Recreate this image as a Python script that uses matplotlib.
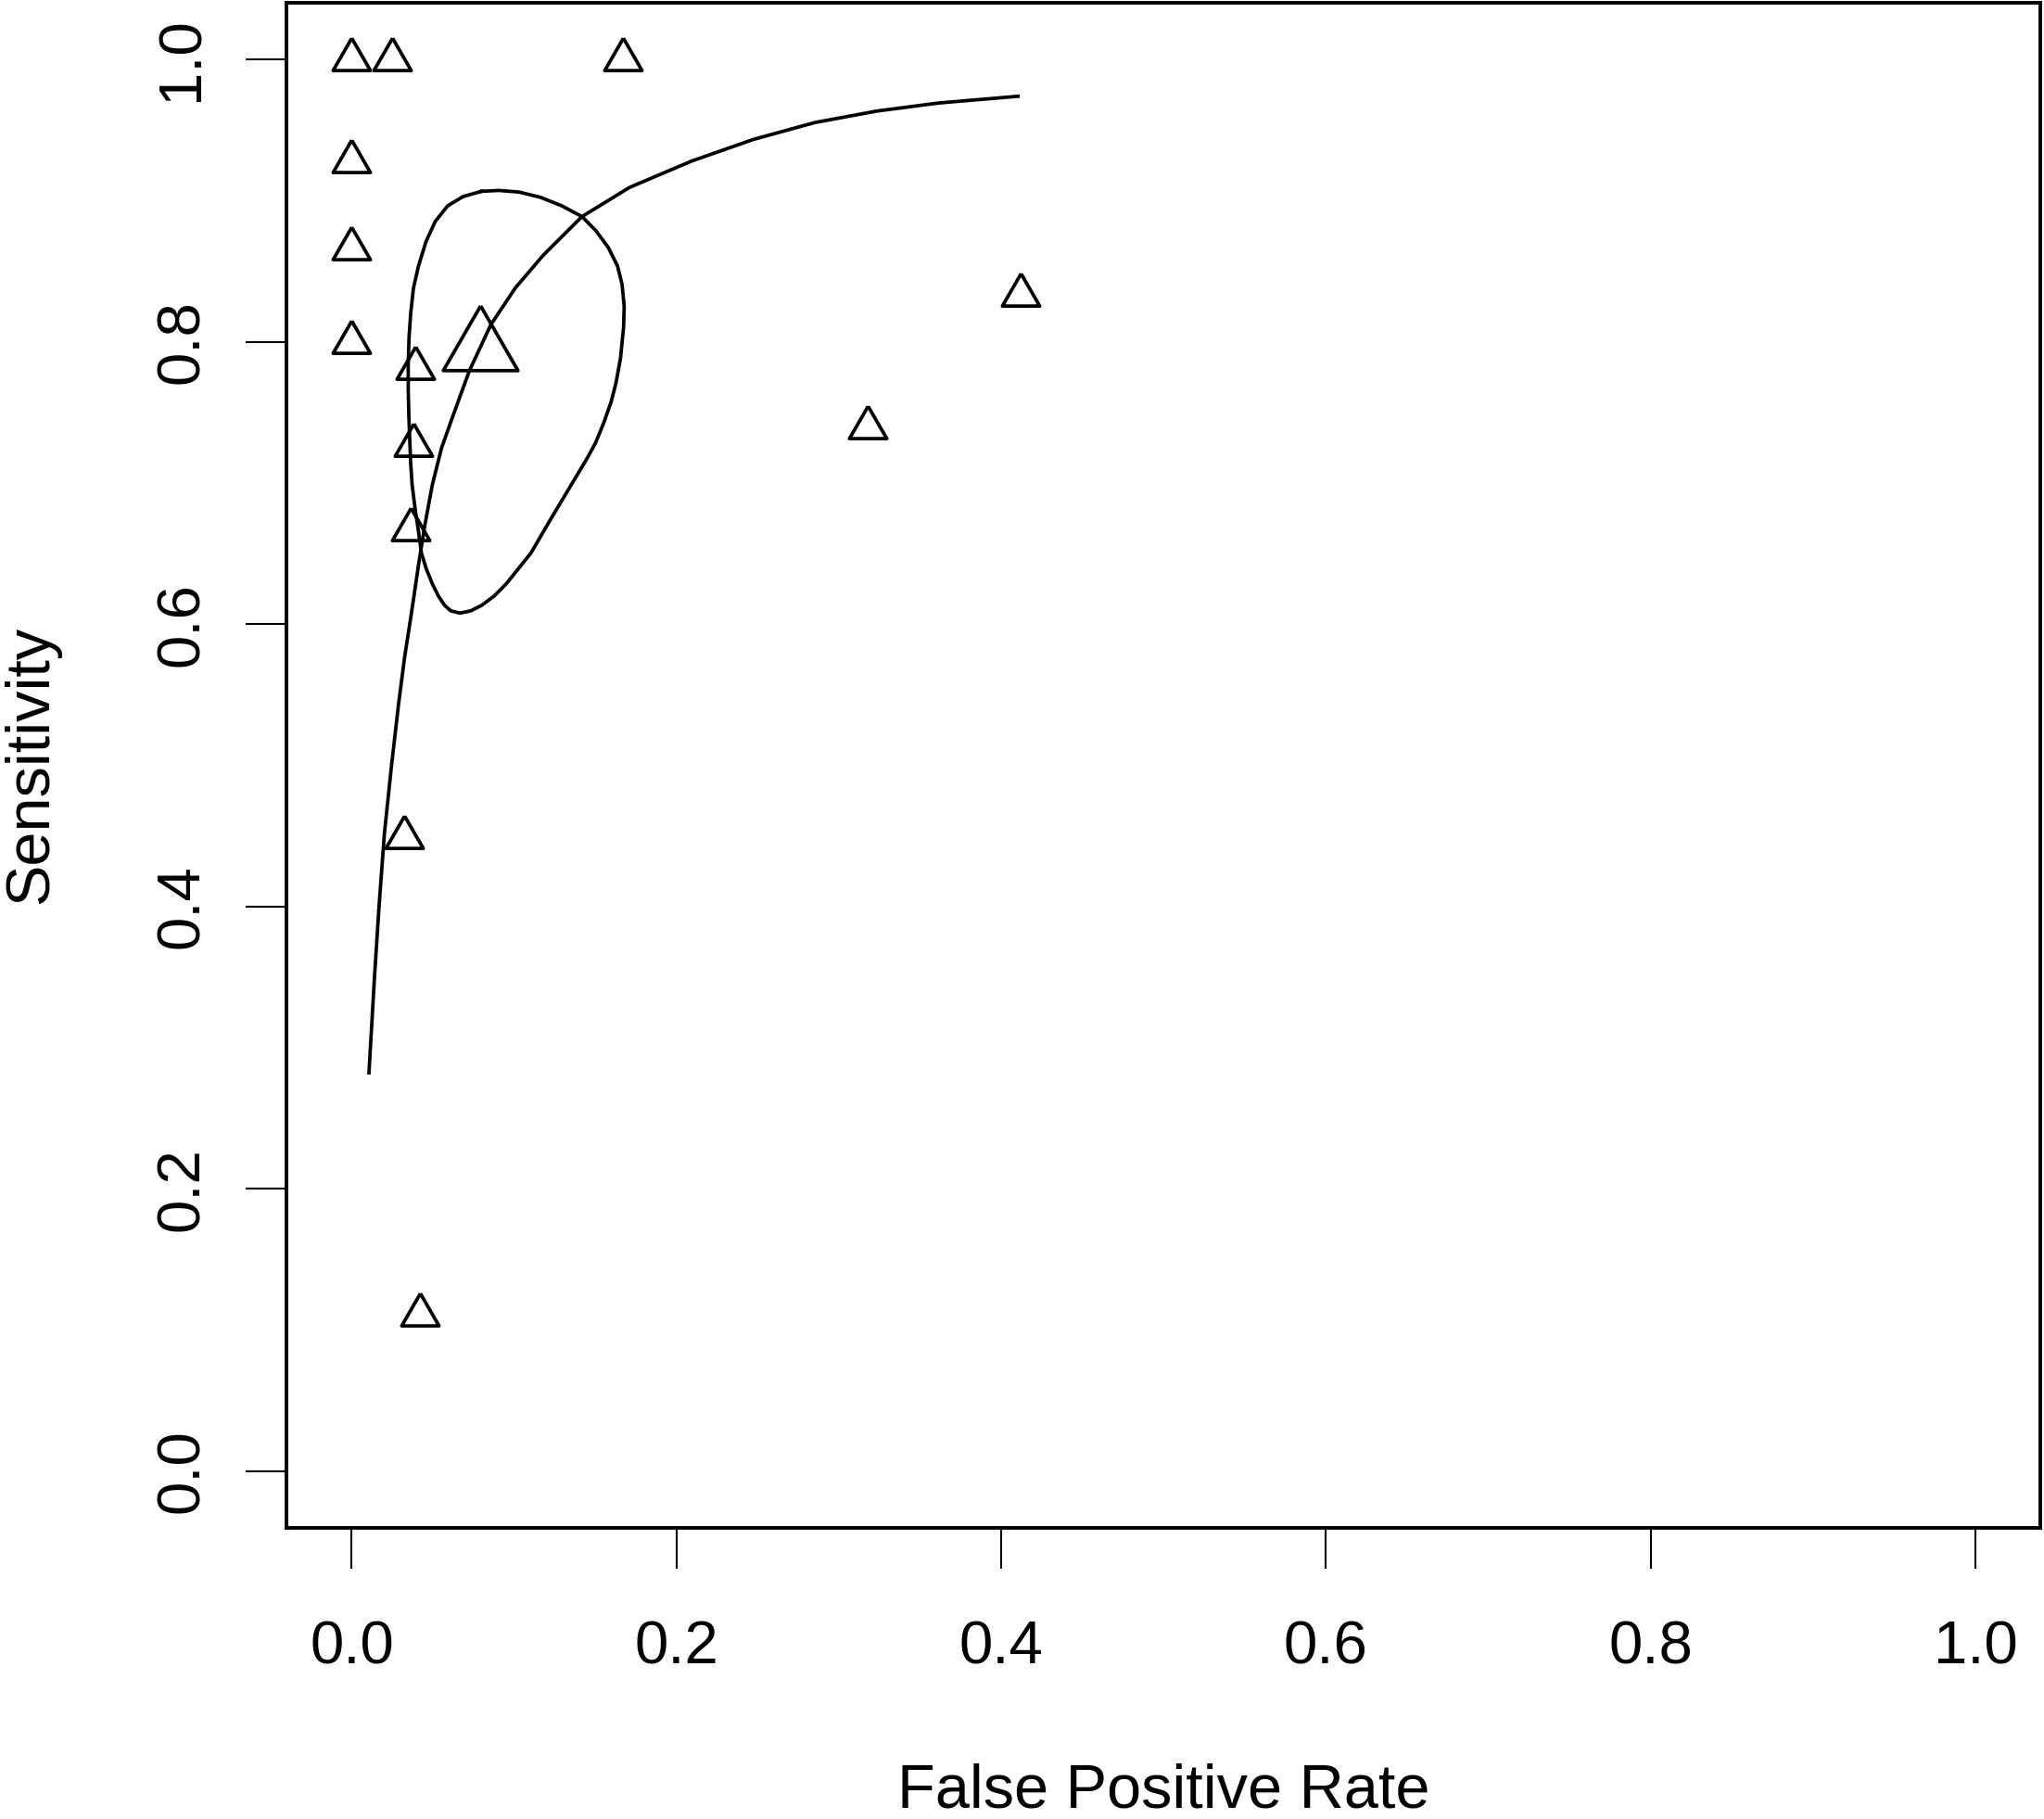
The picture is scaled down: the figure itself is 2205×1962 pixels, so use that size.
import matplotlib
matplotlib.use("Agg")
import matplotlib.pyplot as plt
import numpy as np

plt.rcParams['font.family'] = ['Liberation Sans', 'DejaVu Sans']

# study points (false positive rate, sensitivity)
fpr = [0.0, 0.0246, 0.167, 0.0, 0.0, 0.0, 0.039, 0.038, 0.036, 0.032, 0.042, 0.318, 0.412]
sens = [1.0, 1.0, 1.0, 0.928, 0.866, 0.800, 0.781, 0.727, 0.667, 0.449, 0.111, 0.739, 0.833]

# summary point
sum_fpr = [0.079]
sum_sens = [0.795]

# SROC curve
sroc_fpr = [0.0106, 0.0140, 0.0168, 0.0201, 0.0245, 0.0290, 0.0325, 0.0372, 0.0411,
            0.0450, 0.0496, 0.0553, 0.0625, 0.0724, 0.0857, 0.1009, 0.1180, 0.1418,
            0.1712, 0.2093, 0.2473, 0.2853, 0.3233, 0.3613, 0.4104]
sroc_sens = [0.2823, 0.3500, 0.4000, 0.4516, 0.5000, 0.5450, 0.5761, 0.6111, 0.6417,
             0.6700, 0.6985, 0.7247, 0.7480, 0.7793, 0.8121, 0.8383, 0.8613, 0.8886,
             0.9093, 0.9279, 0.9432, 0.9552, 0.9633, 0.9690, 0.9738]

# confidence region around the summary point
reg_fpr = [0.0800, 0.0905, 0.1028, 0.1161, 0.1294, 0.1418, 0.1503, 0.1580, 0.1637,
           0.1665, 0.1678, 0.1674, 0.1655, 0.1627, 0.1598, 0.1551, 0.1500, 0.1445,
           0.1385, 0.1237, 0.1104, 0.1028, 0.0952, 0.0876, 0.0800, 0.0733, 0.0667,
           0.0610, 0.0572, 0.0534, 0.0496, 0.0458, 0.0429, 0.0411, 0.0391, 0.0372,
           0.0363, 0.0357, 0.0352, 0.0348, 0.0348, 0.0353, 0.0363, 0.0380, 0.0411,
           0.0458, 0.0515, 0.0591, 0.0686, 0.0800]
reg_sens = [0.9065, 0.9071, 0.9060, 0.9023, 0.8962, 0.8886, 0.8787, 0.8667, 0.8536,
            0.8405, 0.8252, 0.8099, 0.7880, 0.7706, 0.7575, 0.7422, 0.7280, 0.7165,
            0.7050, 0.6766, 0.6504, 0.6395, 0.6286, 0.6198, 0.6133, 0.6094, 0.6078,
            0.6094, 0.6133, 0.6198, 0.6286, 0.6395, 0.6504, 0.6657, 0.6810, 0.6985,
            0.7138, 0.7313, 0.7465, 0.7650, 0.7850, 0.8033, 0.8200, 0.8380, 0.8536,
            0.8711, 0.8853, 0.8962, 0.9028, 0.9065]

ticks = [0.0, 0.2, 0.4, 0.6, 0.8, 1.0]
tick_labels = ["0.0", "0.2", "0.4", "0.6", "0.8", "1.0"]

# R style triangle (pch=2), centred on its centroid
tri = [(0.0, 1.0), (-0.866, -0.5), (0.866, -0.5), (0.0, 1.0)]

W, H = 2205, 1962
fig = plt.figure(figsize=(W / 100, H / 100), dpi=100)
ax = fig.add_axes([309.4 / W, 1 - 1648 / H, (2201 - 309.4) / W, (1648 - 3) / H])

lw = 2.7
ax.plot(sroc_fpr, sroc_sens, color='black', lw=lw, solid_joinstyle='round')
ax.plot(reg_fpr, reg_sens, color='black', lw=lw, solid_joinstyle='round')
ax.plot(fpr, sens, ls='none', marker=tri, ms=33.5, mfc='none', mec='black', mew=lw)
ax.plot(sum_fpr, sum_sens, ls='none', marker=tri, ms=67, mfc='none', mec='black', mew=lw)

ax.set_xlim(-0.04, 1.04)
ax.set_ylim(-0.04, 1.04)
ax.set_xticks(ticks)
ax.set_xticklabels(tick_labels)
ax.set_yticks(ticks)
ax.set_yticklabels(tick_labels, rotation=90, va='center', ha='right')

for s in ax.spines.values():
    s.set_linewidth(2.8)
ax.tick_params(axis='x', direction='out', length=31.5, width=1.5, pad=40, labelsize=47)
ax.tick_params(axis='y', direction='out', length=31.5, width=1.5, pad=28, labelsize=47)

fig.text(1255 / W, 1 - 1949 / H, 'False Positive Rate', ha='center', va='baseline', fontsize=48)
fig.text(51 / W, 1 - 825 / H, 'Sensitivity', rotation=90, rotation_mode='anchor',
         ha='center', va='baseline', fontsize=48)

fig.savefig('out.png', dpi=100, facecolor='white')
